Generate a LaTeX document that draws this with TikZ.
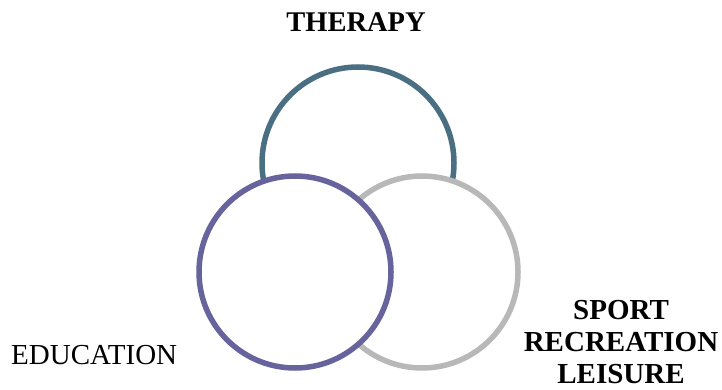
\documentclass[tikz,border=0pt]{standalone}
\usepackage{fontspec}
\setmainfont{Liberation Serif}
\definecolor{therapyc}{RGB}{74,111,131}
\definecolor{educ}{RGB}{103,99,156}
\definecolor{sportc}{RGB}{184,184,184}
\begin{document}
\begin{tikzpicture}[x=1pt,y=-1pt,
  ring/.style={circle,draw,line width=5.5pt,fill=white,inner sep=0pt,minimum size=192pt},
  lbl/.style={font=\fontsize{29}{33}\selectfont,inner sep=0pt}]
\useasboundingbox (0,0) rectangle (722,390);
\node[ring,draw=therapyc] (therapy) at (358,163) {};
\node[ring,draw=sportc] (sport) at (422,272) {};
\node[ring,draw=educ] (edu) at (295,272) {};
\node[lbl,font=\fontsize{28.5}{33}\selectfont\bfseries,anchor=base] (tlabel) at (356,32) {THERAPY};
\node[lbl,anchor=base west] (elabel) at (11,364) {EDUCATION};
\node[lbl,font=\fontsize{29}{32}\selectfont\bfseries,align=center,anchor=center] (slabel) at (621,342) {SPORT\\RECREATION\\LEISURE};
\end{tikzpicture}
\end{document}
